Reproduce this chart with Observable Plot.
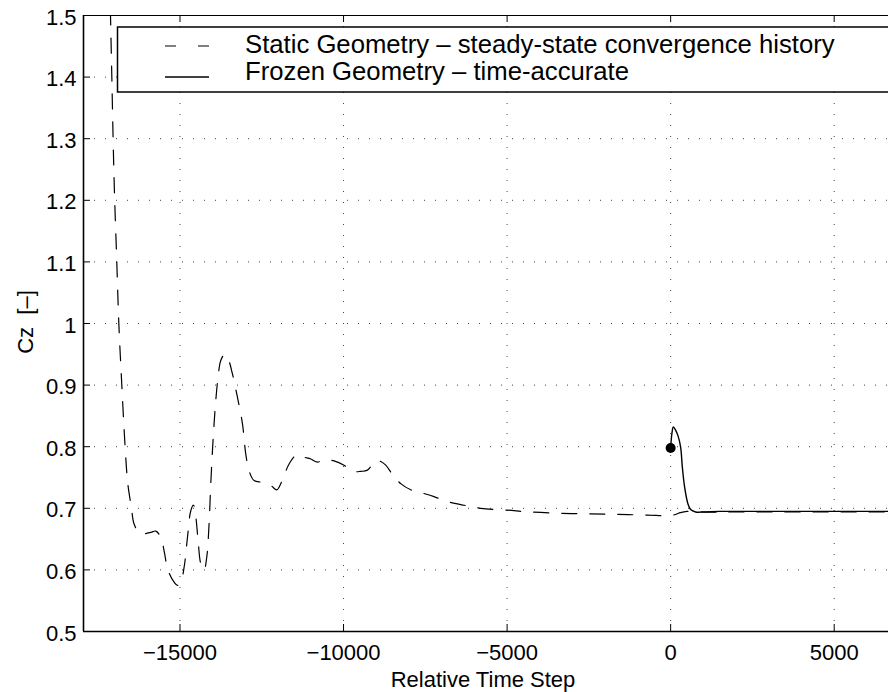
<!DOCTYPE html>
<html>
<head>
<meta charset="utf-8">
<script src="https://cdn.jsdelivr.net/npm/d3@7"></script>
<script src="https://cdn.jsdelivr.net/npm/@observablehq/plot@0.6"></script>
<style>
  body { margin: 0; background: #fff; }
  #wrap { position: relative; width: 888px; height: 692px; overflow: hidden; background: #fff;
          font-family: "Liberation Sans", Arial, sans-serif; }
  #wrap svg.overlay { position: absolute; left: 0; top: 0; }
</style>
</head>
<body>
<div id="wrap"></div>
<script>
// ---- data ----
const xTicks = [-15000, -10000, -5000, 0, 5000];
const yTicks = [0.5, 0.6, 0.7, 0.8, 0.9, 1, 1.1, 1.2, 1.3, 1.4, 1.5];

const staticX = [-17165, -17084, -17045, -17002, -16932, -16870, -16779, -16678, -16595, -16482,
  -16406, -16220, -15892, -15739, -15587, -15486, -15364, -15180, -15077, -14976,
  -14875, -14771, -14670, -14587, -14517, -14447, -14364, -14264, -14181, -14111,
  -14059, -14007, -13958, -13906, -13836, -13753, -13631, -13530, -13396, -13243,
  -13090, -12989, -12888, -12735, -12478, -12225, -12042, -11919, -11797, -11665,
  -11430, -11207, -11002, -10798, -10596, -10290, -9985, -9728, -9474, -9270,
  -9016, -8863, -8710, -8505, -8252, -7946, -7540, -7234, -6825, -6317,
  -5807, -5000, -4300, -3400, -2500, -1600, -700, -50, 150, 300,
  500, 1000, 2000, 4000, 6700];
const staticY = [1.6, 1.4, 1.3, 1.21, 1.10, 1.00, 0.90, 0.80, 0.74, 0.70,
  0.675, 0.659, 0.661, 0.663, 0.653, 0.631, 0.599, 0.580, 0.575, 0.580,
  0.604, 0.653, 0.696, 0.705, 0.686, 0.648, 0.610, 0.600, 0.621, 0.675,
  0.740, 0.794, 0.837, 0.875, 0.913, 0.940, 0.950, 0.943, 0.918, 0.880,
  0.837, 0.788, 0.761, 0.745, 0.742, 0.737, 0.730, 0.740, 0.756, 0.772,
  0.787, 0.783, 0.780, 0.775, 0.779, 0.777, 0.770, 0.760, 0.760, 0.762,
  0.777, 0.776, 0.770, 0.755, 0.740, 0.730, 0.724, 0.719, 0.711, 0.705,
  0.700, 0.697, 0.694, 0.692, 0.691, 0.690, 0.689, 0.688, 0.690, 0.693,
  0.695, 0.694, 0.694, 0.694, 0.694];

const frozenX = [0, 40, 82, 150, 224, 306, 357, 428, 530, 611, 764, 1000, 1500, 2000, 3000, 4000, 5000, 6000, 6700];
const frozenY = [0.798, 0.822, 0.832, 0.827, 0.818, 0.799, 0.767, 0.734, 0.707, 0.698, 0.694, 0.694, 0.695, 0.695, 0.695, 0.695, 0.695, 0.695, 0.695];

const pointX = [0];
const pointY = [0.798];

const legendLabels = ["Static Geometry \u2013 steady-state convergence history", "Frozen Geometry \u2013 time-accurate"];
const xLabel = "Relative Time Step";
const yLabel = "Cz\u00a0 [\u2013]";

// ---- build tables ----
const staticData = staticX.map((x, i) => ({x, y: staticY[i]}));
const frozenData = frozenX.map((x, i) => ({x, y: frozenY[i]}));
const pointData = pointX.map((x, i) => ({x, y: pointY[i]}));

const xDomain = [-17950, 6660];
const yDomain = [0.5, 1.5];
const fmtX = d => d < 0 ? "\u2212" + Math.abs(d) : String(d);
const fmtY = d => String(d);

const chart = Plot.plot({
  width: 888, height: 692,
  marginLeft: 83, marginRight: 0, marginTop: 15, marginBottom: 61,
  style: {fontFamily: '"Liberation Sans", Arial, sans-serif', fontSize: "22px", color: "#000", background: "#fff", overflow: "visible"},
  x: {domain: xDomain},
  y: {domain: yDomain},
  marks: [
    Plot.gridX(xTicks, {stroke: "#444", strokeOpacity: 1, strokeDasharray: "1,10"}),
    Plot.gridY(yTicks, {stroke: "#444", strokeOpacity: 1, strokeDasharray: "1,10"}),
    Plot.axisX(xTicks, {tickSize: 0, tickPadding: 13, tickFormat: fmtX, label: null, fontSize: 22}),
    Plot.axisY(yTicks, {tickSize: 0, tickPadding: 7, tickFormat: fmtY, label: null, fontSize: 22, dy: 2}),
    Plot.tickX(xTicks, {x: d => d, insetTop: 609, stroke: "#000"}),
    Plot.tickX(xTicks, {x: d => d, insetBottom: 609, stroke: "#000"}),
    Plot.tickY(yTicks, {y: d => d, insetRight: 798, stroke: "#000"}),
    Plot.line(staticData, {x: "x", y: "y", stroke: "#000", strokeWidth: 1.2, strokeDasharray: "15,13", curve: "catmull-rom", clip: true}),
    Plot.line(frozenData, {x: "x", y: "y", stroke: "#000", strokeWidth: 1.4, curve: "catmull-rom", clip: true}),
    Plot.dot(pointData, {x: "x", y: "y", r: 5, fill: "#000", stroke: null}),
    Plot.ruleX([xDomain[0]], {stroke: "#000", strokeWidth: 1.6}),
    Plot.ruleY([yDomain[0]], {stroke: "#000", strokeWidth: 1.6}),
    Plot.ruleY([yDomain[1]], {stroke: "#000", strokeWidth: 1})
  ]
});

const wrap = document.getElementById("wrap");
wrap.appendChild(chart);

// ---- legend & axis titles overlay ----
const ns = "http://www.w3.org/2000/svg";
const ov = document.createElementNS(ns, "svg");
ov.setAttribute("class", "overlay");
ov.setAttribute("width", 888);
ov.setAttribute("height", 692);
ov.style.fontFamily = '"Liberation Sans", Arial, sans-serif';
function el(tag, attrs, text) {
  const e = document.createElementNS(ns, tag);
  for (const k in attrs) e.setAttribute(k, attrs[k]);
  if (text != null) e.textContent = text;
  ov.appendChild(e);
  return e;
}
el("rect", {x: 117.5, y: 27, width: 800, height: 65, fill: "#fff", stroke: "#000", "stroke-width": 1.5});
el("line", {x1: 165, x2: 209, y1: 46, y2: 46, stroke: "#000", "stroke-width": 1.2, "stroke-dasharray": "11,22"});
el("line", {x1: 165, x2: 209, y1: 77, y2: 77, stroke: "#000", "stroke-width": 1.4});
el("text", {x: 245, y: 53.3, "font-size": 25.7, fill: "#000"}, legendLabels[0]);
el("text", {x: 245, y: 80, "font-size": 25.7, fill: "#000"}, legendLabels[1]);
el("text", {x: 483, y: 687, "font-size": 22, "text-anchor": "middle", fill: "#000"}, xLabel);
el("text", {x: 0, y: 0, "font-size": 22, "text-anchor": "middle", fill: "#000",
  transform: "translate(33,322) rotate(-90)"}, yLabel);
wrap.appendChild(ov);
</script>
</body>
</html>
